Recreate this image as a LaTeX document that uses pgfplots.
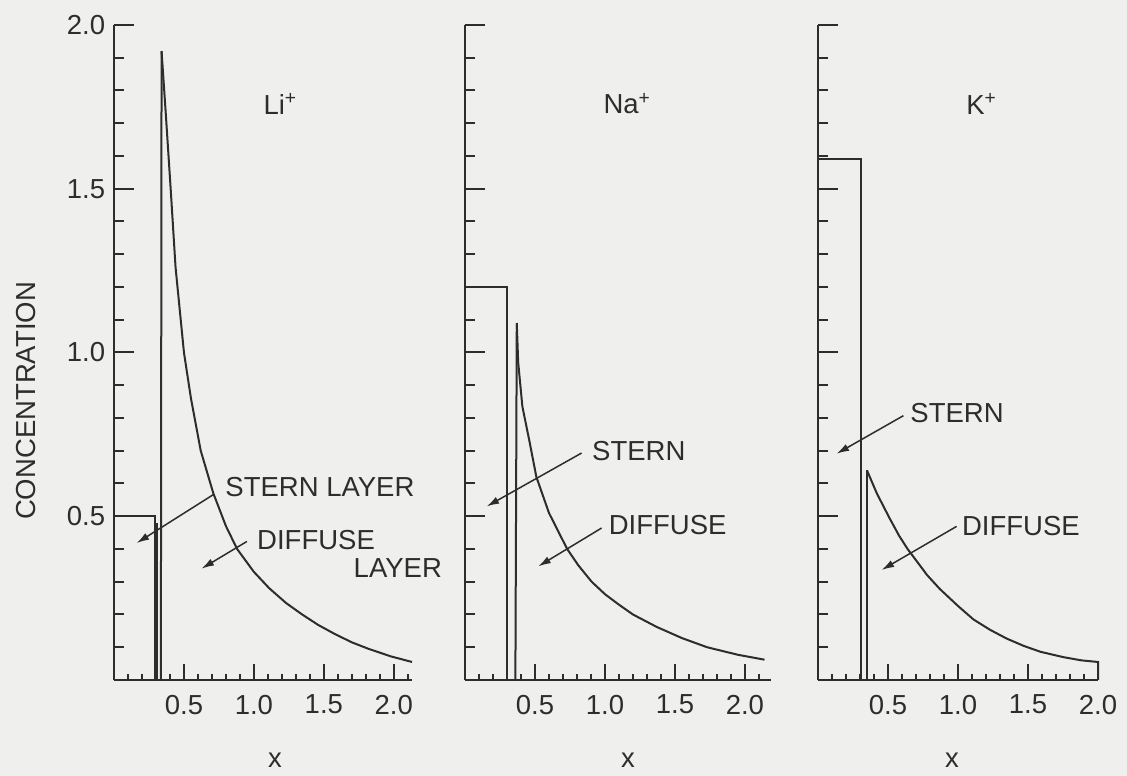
\documentclass[border=0pt]{standalone}
\usepackage{fontspec}
\setmainfont{Liberation Sans}
\usepackage{pgfplots}
\pgfplotsset{compat=1.18}
\usetikzlibrary{arrows.meta}

\definecolor{paper}{RGB}{239,239,237}
\definecolor{ink}{RGB}{45,45,45}
\newcommand\lbl{\fontsize{11}{13}\selectfont}

% minor tick positions
\def\minorx{0.1,0.2,0.3,0.4,0.6,0.7,0.8,0.9,1.1,1.2,1.3,1.4,1.6,1.7,1.8,1.9,2.1}
\def\minorxk{0.1,0.2,0.3,0.4,0.6,0.7,0.8,0.9,1.1,1.2,1.3,1.4,1.6,1.7,1.8,1.9}

\tikzset{
  note/.style={ink, line width=0.6pt, -{Latex[length=5pt,width=3pt]}},
  txt/.style={font=\lbl, text=ink},
}

\pgfplotsset{
  panel/.style={
    scale only axis, anchor=south west,
    height=262pt, xmin=0, ymin=0, ymax=2,
    clip=false,
    axis line style={ink, line width=0.9pt},
    tick style={ink, line width=0.8pt},
    tick align=inside,
    /pgf/number format/assume math mode=true,
    tick label style={font=\lbl, text=ink},
  },
  xpart/.style={
    axis x line*=bottom, axis y line=none, ytick=\empty,
    xtick={0.5,1,1.5,2}, xticklabels={0.5,1.0,1.5,2.0},
    minor xtick/.expanded={#1},
    major tick length=6.5pt, minor tick length=2.4pt,
    xticklabel style={yshift=-2.5pt},
  },
  ypart/.style={
    axis y line*=left, axis x line=none, xtick=\empty,
    ytick={0.5,1,1.5,2}, yticklabels={0.5,1.0,1.5,2.0},
    minor ytick={0.1,0.2,0.3,0.4,0.6,0.7,0.8,0.9,1.1,1.2,1.3,1.4,1.6,1.7,1.8,1.9},
    major tick length=8pt, minor tick length=4pt,
  },
  nolabels/.style={yticklabel style={text opacity=0}},
  curve/.style={ink, line width=0.8pt},
}

\begin{document}
\begin{tikzpicture}
\path[use as bounding box, fill=paper] (0,0) rectangle (450.8pt,310.4pt);

% ---------- Li+ ----------
\begin{axis}[panel, ypart, at={(45.6pt,38.4pt)}, width=119.2pt, xmax=2.13]
\end{axis}
\begin{axis}[panel, xpart=\minorx, at={(45.6pt,38.4pt)}, width=119.2pt, xmax=2.13]
  \addplot[curve] coordinates {(0,0.5) (0.29,0.5) (0.29,0)};
  \addplot[curve] coordinates {(0.307,0) (0.307,0.48)};
  \addplot[curve] coordinates {(0.335,0) (0.34,1.92)};
  \addplot[curve] coordinates {
    (0.34,1.92) (0.37,1.73) (0.405,1.5) (0.44,1.26) (0.5,1.0) (0.55,0.86)
    (0.62,0.70) (0.71,0.57) (0.8,0.47) (0.88,0.40) (1.0,0.33) (1.11,0.28)
    (1.23,0.235) (1.345,0.20) (1.46,0.168) (1.58,0.14) (1.7,0.115)
    (1.82,0.095) (1.98,0.072) (2.13,0.055)};
  \node[txt] at (axis cs:1.19,1.76) {Li\textsuperscript{+}};
  \draw[note] (axis cs:0.71,0.566) -- (axis cs:0.162,0.418);
  \node[txt, anchor=west, inner sep=0] at (axis cs:0.793,0.59) {STERN LAYER};
  \draw[note] (axis cs:0.95,0.423) -- (axis cs:0.626,0.34);
  \node[txt, anchor=west, inner sep=0] at (axis cs:1.02,0.428) {DIFFUSE};
  \node[txt, anchor=west, inner sep=0] at (axis cs:1.71,0.342) {LAYER};
\end{axis}

% ---------- Na+ ----------
\begin{axis}[panel, ypart, nolabels, at={(186pt,38.4pt)}, width=122.6pt, xmax=2.19]
\end{axis}
\begin{axis}[panel, xpart=\minorx, at={(186pt,38.4pt)}, width=122.6pt, xmax=2.19]
  \addplot[curve] coordinates {(0,1.2) (0.30,1.2) (0.30,0)};
  \addplot[curve] coordinates {(0.36,0) (0.37,1.09)};
  \addplot[curve] coordinates {
    (0.37,1.09) (0.38,0.97) (0.41,0.835) (0.46,0.73) (0.51,0.62) (0.6,0.51)
    (0.73,0.40) (0.81,0.35) (0.905,0.30) (1.0,0.262) (1.1,0.23) (1.2,0.20)
    (1.37,0.162) (1.55,0.128) (1.73,0.10) (1.95,0.077) (2.14,0.062)};
  \node[txt] at (axis cs:1.16,1.76) {Na\textsuperscript{+}};
  \draw[note] (axis cs:0.833,0.693) -- (axis cs:0.155,0.53);
  \node[txt, anchor=west, inner sep=0] at (axis cs:0.905,0.698) {STERN};
  \draw[note] (axis cs:0.976,0.464) -- (axis cs:0.524,0.347);
  \node[txt, anchor=west, inner sep=0] at (axis cs:1.024,0.474) {DIFFUSE};
\end{axis}

% ---------- K+ ----------
\begin{axis}[panel, ypart, nolabels, at={(327.2pt,38.4pt)}, width=112pt, xmax=2.0]
\end{axis}
\begin{axis}[panel, xpart=\minorxk, at={(327.2pt,38.4pt)}, width=112pt, xmax=2.0]
  \addplot[curve] coordinates {(0,1.59) (0.307,1.59) (0.307,0)};
  \addplot[curve] coordinates {(0.35,0) (0.35,0.64)};
  \addplot[curve] coordinates {
    (0.35,0.64) (0.42,0.57) (0.51,0.495) (0.58,0.44) (0.64,0.40) (0.78,0.32)
    (0.87,0.278) (1.0,0.226) (1.11,0.185) (1.23,0.153) (1.35,0.126)
    (1.47,0.104) (1.59,0.086) (1.75,0.07) (1.88,0.06) (2.0,0.055) (2.0,0)};
  \node[txt] at (axis cs:1.17,1.76) {K\textsuperscript{+}};
  \draw[note] (axis cs:0.61,0.807) -- (axis cs:0.133,0.691);
  \node[txt, anchor=west, inner sep=0] at (axis cs:0.657,0.816) {STERN};
  \draw[note] (axis cs:0.99,0.469) -- (axis cs:0.455,0.336);
  \node[txt, anchor=west, inner sep=0] at (axis cs:1.026,0.469) {DIFFUSE};
\end{axis}

% axis titles
\node[txt, rotate=90] at (10.4pt,150pt) {CONCENTRATION};
\node[txt] at (110pt,6.4pt) {x};
\node[txt] at (251.2pt,6.4pt) {x};
\node[txt] at (380.8pt,6.4pt) {x};
\end{tikzpicture}
\end{document}
